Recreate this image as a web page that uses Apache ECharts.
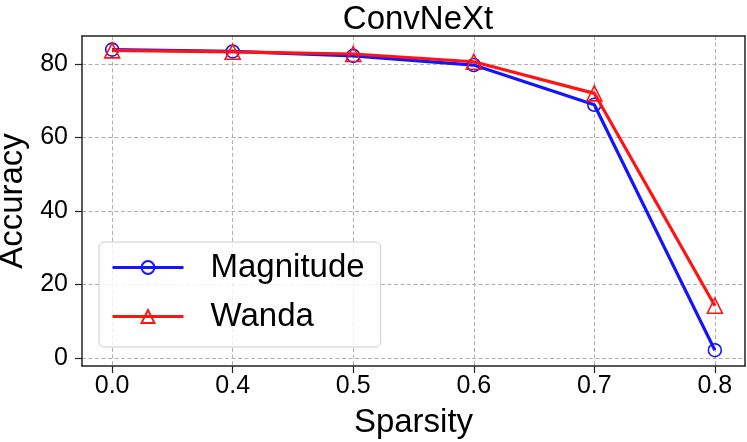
<!DOCTYPE html>
<html><head><meta charset="utf-8">
<script src="https://cdn.jsdelivr.net/npm/echarts@6/dist/echarts.min.js"></script>
<style>html,body{margin:0;padding:0;background:#fff}#c{width:747px;height:442px}</style>
</head><body><div id="c"></div>
<script>
const categories = ['0.0','0.4','0.5','0.6','0.7','0.8'];
const magnitude = [83.9, 83.4, 82.2, 79.7, 68.9, 2.1];
const wanda = [83.7, 83.3, 82.7, 80.6, 72.0, 14.2];
const yTicks = [0, 20, 40, 60, 80];

const idx = categories.map((_, i) => i);
const font = 'Liberation Sans, Arial, Helvetica, sans-serif';
const blue = '#1414ff', red = '#ff1414';
const chart = echarts.init(document.getElementById('c'));
const gridLine = {show: true, lineStyle: {color: '#b0b0b0', type: [4, 2.5], width: 1}};
chart.setOption({
  animation: false,
  title: {text: 'ConvNeXt', left: 413, top: -2, textAlign: 'center',
    textStyle: {fontFamily: font, fontSize: 33, fontWeight: 'normal', color: '#000'}},
  grid: {left: 82, right: 2, top: 36, bottom: 76, containLabel: false, outerBoundsMode: 'none'},
  legend: {
    orient: 'vertical', left: 99, top: 242, padding: [9, 16, 14, 12],
    itemWidth: 71, itemHeight: 16, itemGap: 16,
    backgroundColor: 'rgba(255,255,255,0.8)', borderColor: '#cccccc', borderWidth: 1, borderRadius: 5,
    textStyle: {fontFamily: font, fontSize: 33, lineHeight: 33, color: '#000', padding: [0, 0, 0, 22]},
    lineStyle: {width: 3},
    data: ['Magnitude', 'Wanda']
  },
  xAxis: [{
    type: 'value', min: -0.25, max: 5.25,
    name: 'Sparsity', nameLocation: 'middle', nameGap: 40,
    nameTextStyle: {fontFamily: font, fontSize: 33, color: '#000'},
    axisLine: {show: true, onZero: false, lineStyle: {color: '#222', width: 1.5}},
    axisTick: {show: true, length: 7, customValues: idx, lineStyle: {color: '#222', width: 1.2}},
    axisLabel: {customValues: idx, formatter: v => categories[Math.round(v)] ?? '',
      fontFamily: font, fontSize: 25, color: '#000', margin: 8},
    splitLine: gridLine
  }, {
    type: 'value', position: 'top', min: -0.25, max: 5.25,
    axisLine: {show: true, onZero: false, lineStyle: {color: '#222', width: 1.5}},
    axisTick: {show: false}, axisLabel: {show: false}, splitLine: {show: false}
  }],
  yAxis: [{
    type: 'value', min: -2.2, max: 87.6,
    name: 'Accuracy', nameLocation: 'middle', nameGap: 47, nameRotate: 90,
    nameTextStyle: {fontFamily: font, fontSize: 33, color: '#000'},
    axisLine: {show: true, onZero: false, lineStyle: {color: '#222', width: 1.5}},
    axisTick: {show: true, length: 7, customValues: yTicks, lineStyle: {color: '#222', width: 1.2}},
    axisLabel: {customValues: yTicks, fontFamily: font, fontSize: 25, color: '#000', margin: 14},
    splitLine: gridLine
  }, {
    type: 'value', position: 'right', min: -2.2, max: 87.6,
    axisLine: {show: true, onZero: false, lineStyle: {color: '#222', width: 1.5}},
    axisTick: {show: false}, axisLabel: {show: false}, splitLine: {show: false}
  }],
  series: [{
    name: 'Magnitude', type: 'line', data: idx.map(i => [i, magnitude[i]]),
    symbol: 'circle', symbolSize: 13, showAllSymbol: true,
    itemStyle: {color: 'rgba(255,255,255,0)', borderColor: blue, borderWidth: 1.6},
    lineStyle: {color: blue, width: 3.2}, z: 2
  }, {
    name: 'Wanda', type: 'line', data: idx.map(i => [i, wanda[i]]),
    symbol: 'triangle', symbolSize: 15, showAllSymbol: true,
    itemStyle: {color: 'rgba(255,255,255,0)', borderColor: red, borderWidth: 1.6},
    lineStyle: {color: red, width: 3.2}, z: 3
  }]
});
</script></body></html>
